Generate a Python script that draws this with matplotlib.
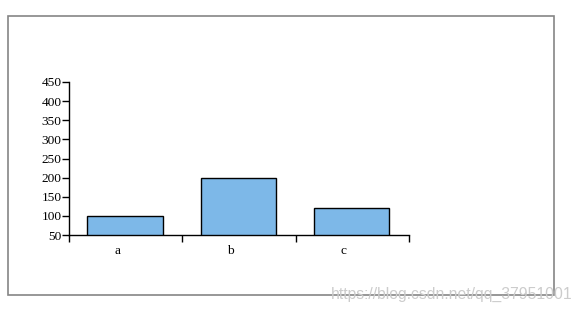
import matplotlib.pyplot as plt
from matplotlib.patches import Rectangle

categories = ["a", "b", "c"]
values = [100, 200, 120]
y_ticks = [50, 100, 150, 200, 250, 300, 350, 400, 450]

W, H = 580, 313
fig = plt.figure(figsize=(W / 100, H / 100), dpi=100)
fig.patch.set_facecolor("white")

# outer grey frame
fig.add_artist(Rectangle((7.5 / W, 1 - 294.5 / H), (553.5 - 7.5) / W, (294.5 - 15.5) / H,
                         transform=fig.transFigure, fill=False,
                         edgecolor="#858585", lw=1.2))

ax = fig.add_axes([69 / W, 1 - 235 / H, (409 - 69) / W, (235 - 82) / H])
pos = [i + 0.495 for i in range(len(categories))]
ax.bar(pos, [v - 50 for v in values], bottom=50, width=0.665,
       color="#7db8e8", edgecolor="black", lw=1.0, zorder=3)

ax.set_xlim(0, len(categories))
ax.set_ylim(50, 450)
ax.set_yticks(y_ticks)
ax.set_xticks(range(len(categories) + 1))
ax.set_xticklabels([])
# labels sit a little left of the band centres, as in the original
ax.set_xticks([i + 0.425 for i in range(len(categories))], minor=True)
ax.set_xticklabels(categories, minor=True)

for s in ["top", "right"]:
    ax.spines[s].set_visible(False)
for s in ["left", "bottom"]:
    ax.spines[s].set_linewidth(1.0)

serif = "Liberation Serif"
ax.tick_params(axis="y", length=5, width=1.0, pad=0.5, labelsize=9.6)
ax.tick_params(axis="x", which="major", length=5, width=1.0)
ax.tick_params(axis="x", which="minor", length=0, pad=7.5, labelsize=9.6)
for lab in ax.get_yticklabels() + ax.get_xticklabels(minor=True):
    lab.set_fontfamily(serif)

fig.text(572 / W, 1 - 294 / H, "https://blog.csdn.net/qq_37951001", ha="right", va="center",
         fontsize=11.3, color="#cccccc", family="Liberation Sans")

fig.savefig("out.png", dpi=100)
